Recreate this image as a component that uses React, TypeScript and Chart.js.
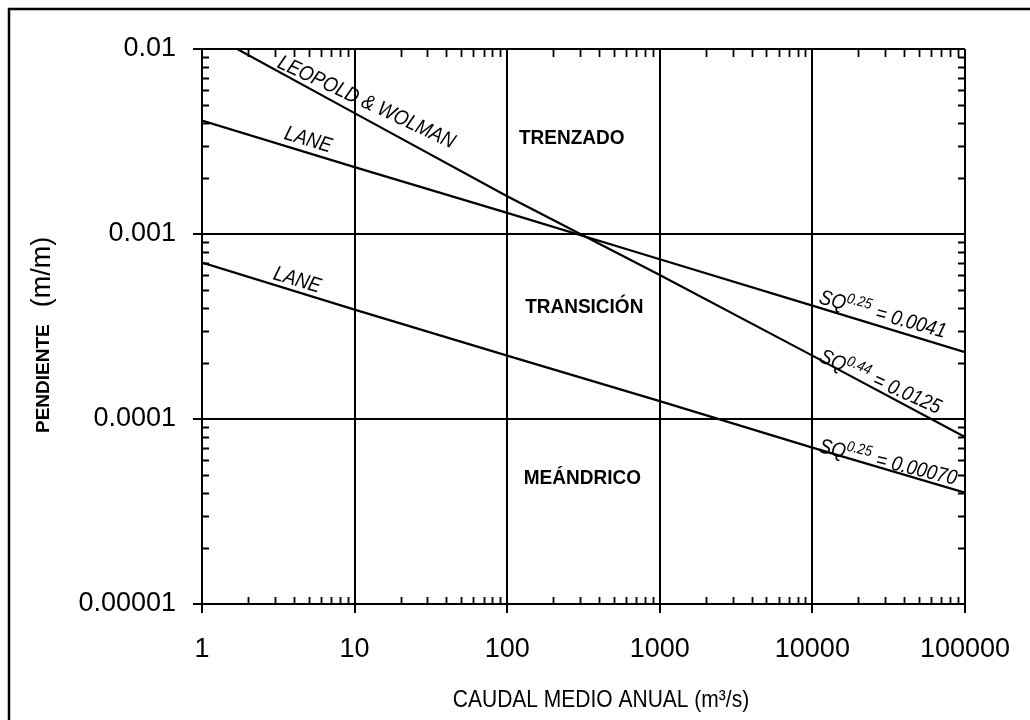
import React, { useEffect, useRef } from "react";
import { Chart, registerables } from "chart.js";

Chart.register(...registerables);

// ---- axis decades & labels ----
const caudalDecades = [1, 10, 100, 1000, 10000, 100000];
const xTickLabels = ["1", "10", "100", "1000", "10000", "100000"];
const pendienteDecades = [0.00001, 0.0001, 0.001, 0.01];
const yTickLabels = ["0.00001", "0.0001", "0.001", "0.01"];

// ---- series ----
const laneUpperQ = [1, 10, 100, 1000, 10000, 100000];
const laneUpperS = [0.0041, 0.0023, 0.0013, 0.00073, 0.00041, 0.00023];
const laneLowerQ = [1, 10, 100, 1000, 10000, 100000];
const laneLowerS = [0.0007, 0.00039, 0.00022, 0.000125, 0.00007, 0.00004];
const leopoldQ = [1.7, 10, 100, 1000, 10000, 100000];
const leopoldS = [0.01, 0.0045, 0.0016, 0.0006, 0.00022, 0.00008];

// ---- texts ----
const xTitle = "CAUDAL MEDIO ANUAL (m³/s)";
const yTitleBold = "PENDIENTE";
const yTitleUnit = "(m/m)";
const regionNames = ["TRENZADO", "TRANSICIÓN", "MEÁNDRICO"];
const regionQ = [265, 320, 311];
const regionS = [0.00327, 0.0004, 0.0000479];

type Part = { t: string; sup?: boolean };
const lineLabelParts: Part[][] = [
  [{ t: "LEOPOLD & WOLMAN" }],
  [{ t: "LANE" }],
  [{ t: "LANE" }],
  [{ t: "SQ" }, { t: "0.25", sup: true }, { t: " = 0.0041" }],
  [{ t: "SQ" }, { t: "0.44", sup: true }, { t: " = 0.0125" }],
  [{ t: "SQ" }, { t: "0.25", sup: true }, { t: " = 0.00070" }],
];
const lineLabelQ = [3.07, 3.41, 2.89, 10900, 10900, 10900];
const lineLabelS = [0.008, 0.00327, 0.000571, 0.000424, 0.000206, 0.0000663];
const lineLabelAngle = [25, 16.5, 16.5, 15.6, 24, 13.5];

const FAMILY = "'Liberation Sans', Arial, Helvetica, sans-serif";

const minorValues = (decades: number[]) => {
  const out: number[] = [];
  for (let i = 0; i < decades.length - 1; i++) {
    for (let m = 2; m <= 9; m++) out.push(decades[i] * m);
  }
  return out;
};

const decorPlugin = {
  id: "decor",
  beforeDraw(chart: any) {
    const ctx = chart.ctx;
    ctx.save();
    ctx.strokeStyle = "#000";
    ctx.lineWidth = 2.5;
    ctx.beginPath();
    ctx.moveTo(9, 720);
    ctx.lineTo(9, 9);
    ctx.lineTo(1030, 9);
    ctx.stroke();
    ctx.restore();
  },
  afterDraw(chart: any) {
    const ctx = chart.ctx;
    const xs = chart.scales.x;
    const ys = chart.scales.y;
    const { left, right, top, bottom } = chart.chartArea;
    ctx.save();
    ctx.strokeStyle = "#000";
    ctx.fillStyle = "#000";
    ctx.lineWidth = 1.8;
    ctx.beginPath();
    for (const v of minorValues(caudalDecades)) {
      const px = Math.round(xs.getPixelForValue(v)) + 0.5;
      ctx.moveTo(px, bottom);
      ctx.lineTo(px, bottom - 7);
      ctx.moveTo(px, top);
      ctx.lineTo(px, top + 8);
    }
    for (const v of minorValues(pendienteDecades)) {
      const py = Math.round(ys.getPixelForValue(v)) + 0.5;
      ctx.moveTo(left, py);
      ctx.lineTo(left + 7, py);
      ctx.moveTo(right, py);
      ctx.lineTo(right - 7, py);
    }
    ctx.stroke();

    // region labels
    ctx.font = `bold 20px ${FAMILY}`;
    ctx.textAlign = "center";
    ctx.textBaseline = "middle";
    regionNames.forEach((name, i) => {
      const px = xs.getPixelForValue(regionQ[i]);
      const py = ys.getPixelForValue(regionS[i]);
      ctx.save();
      ctx.translate(px, py);
      ctx.scale(0.95, 1);
      ctx.fillText(name, 0, 0);
      ctx.restore();
    });

    // line labels
    ctx.textAlign = "left";
    ctx.textBaseline = "alphabetic";
    lineLabelParts.forEach((parts, i) => {
      ctx.save();
      ctx.translate(xs.getPixelForValue(lineLabelQ[i]), ys.getPixelForValue(lineLabelS[i]));
      ctx.rotate((lineLabelAngle[i] * Math.PI) / 180);
      ctx.scale(0.88, 1);
      let cx = 0;
      for (const p of parts) {
        ctx.font = p.sup ? `italic 15px ${FAMILY}` : `italic 21px ${FAMILY}`;
        ctx.fillText(p.t, cx, p.sup ? -8 : 0);
        cx += ctx.measureText(p.t).width + (p.sup ? 1 : 0);
      }
      ctx.restore();
    });

    // x title
    ctx.save();
    ctx.font = `24px ${FAMILY}`;
    ctx.textAlign = "center";
    ctx.textBaseline = "middle";
    ctx.translate(601, 700);
    ctx.scale(0.875, 1);
    ctx.fillText(xTitle, 0, 0);
    ctx.restore();

    // y title
    ctx.save();
    ctx.translate(44, 433);
    ctx.rotate(-Math.PI / 2);
    ctx.textAlign = "left";
    ctx.textBaseline = "middle";
    ctx.font = `bold 19px ${FAMILY}`;
    ctx.fillText(yTitleBold, 0, 0);
    const w = ctx.measureText(yTitleBold).width;
    ctx.font = `27px ${FAMILY}`;
    ctx.fillText(yTitleUnit, w + 17, -1);
    ctx.restore();

    ctx.restore();
  },
};

const toPoints = (qs: number[], ss: number[]) => qs.map((q, i) => ({ x: q, y: ss[i] }));

export default function App() {
  const ref = useRef<HTMLCanvasElement | null>(null);
  useEffect(() => {
    if (!ref.current) return;
    const lineStyle = {
      borderColor: "#000",
      borderWidth: 2.2,
      pointRadius: 0,
      fill: false,
      tension: 0,
    };
    const chart = new Chart(ref.current, {
      type: "line",
      data: {
        datasets: [
          { label: "Lane SQ^0.25 = 0.0041", data: toPoints(laneUpperQ, laneUpperS), ...lineStyle },
          { label: "Lane SQ^0.25 = 0.00070", data: toPoints(laneLowerQ, laneLowerS), ...lineStyle },
          { label: "Leopold & Wolman SQ^0.44 = 0.0125", data: toPoints(leopoldQ, leopoldS), ...lineStyle },
        ],
      },
      options: {
        animation: false,
        responsive: false,
        devicePixelRatio: 1,
        layout: { padding: { left: 0, top: 49, right: 59, bottom: 0 } },
        plugins: { legend: { display: false }, tooltip: { enabled: false }, title: { display: false } },
        scales: {
          x: {
            type: "logarithmic",
            position: "bottom",
            min: 1,
            max: 100000,
            afterBuildTicks: (scale: any) => {
              scale.ticks = caudalDecades.map((v) => ({ value: v }));
            },
            afterFit: (scale: any) => {
              scale.height = 116;
            },
            ticks: {
              autoSkip: false,
              maxRotation: 0,
              padding: 20,
              color: "#000",
              font: { family: FAMILY, size: 27 },
              callback: (_v: any, i: number) => xTickLabels[i],
            },
            grid: { color: "#000", lineWidth: 2, drawTicks: true, tickLength: 9, tickColor: "#000", tickWidth: 2 },
            border: { display: true, color: "#000", width: 2 },
          },
          y: {
            type: "logarithmic",
            position: "left",
            min: 0.00001,
            max: 0.01,
            afterBuildTicks: (scale: any) => {
              scale.ticks = pendienteDecades.map((v) => ({ value: v }));
            },
            afterFit: (scale: any) => {
              scale.width = 202;
            },
            ticks: {
              autoSkip: false,
              padding: 17,
              color: "#000",
              font: { family: FAMILY, size: 27 },
              callback: (_v: any, i: number) => yTickLabels[i],
            },
            grid: { color: "#000", lineWidth: 2, drawTicks: true, tickLength: 9, tickColor: "#000", tickWidth: 2 },
            border: { display: true, color: "#000", width: 2 },
          },
        },
      } as any,
      plugins: [decorPlugin],
    });
    return () => chart.destroy();
  }, []);
  return (
    <div style={{ position: "absolute", left: 0, top: 0, width: 1030, height: 720, background: "#fff" }}>
      <canvas ref={ref} width={1030} height={720} />
    </div>
  );
}
